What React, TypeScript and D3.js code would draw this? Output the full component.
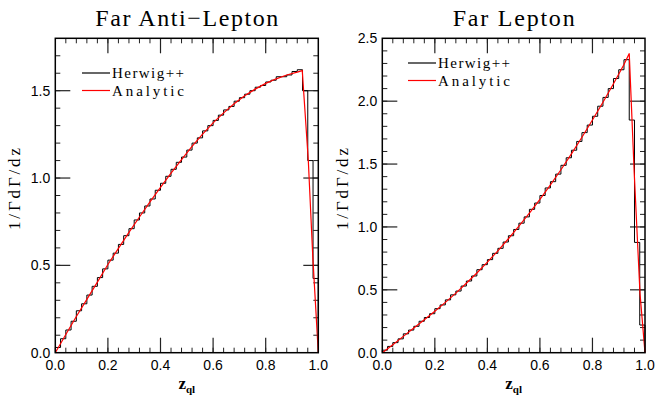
import React from 'react';
import * as d3 from 'd3';

// bin edges: 50 bins of width 0.02 on [0, 1]
const binEdges = d3.range(0, 51).map((i) => i / 50);

// Far Anti-Lepton
const antiHerwig = [0.03, 0.08, 0.13, 0.18, 0.24, 0.28, 0.33, 0.38, 0.43, 0.48,
  0.53, 0.57, 0.62, 0.67, 0.71, 0.76, 0.80, 0.84, 0.88, 0.93,
  0.97, 1.01, 1.05, 1.09, 1.12, 1.16, 1.20, 1.23, 1.27, 1.30,
  1.33, 1.36, 1.39, 1.41, 1.44, 1.46, 1.48, 1.50, 1.52, 1.53,
  1.55, 1.56, 1.58, 1.58, 1.59, 1.61, 1.62, 1.50, 1.10, 0.425];
const antiAnalyticZ = [0, 0.04, 0.08, 0.12, 0.16, 0.20, 0.24, 0.28, 0.32, 0.36, 0.40, 0.44, 0.48, 0.52,
  0.56, 0.60, 0.64, 0.68, 0.72, 0.76, 0.80, 0.84, 0.88, 0.92, 0.939, 0.962, 0.979, 1.0];
const antiAnalyticV = [0, 0.104, 0.207, 0.305, 0.404, 0.505, 0.597, 0.689, 0.777, 0.863, 0.947, 1.028, 1.106, 1.181,
  1.251, 1.316, 1.373, 1.425, 1.471, 1.509, 1.542, 1.568, 1.59, 1.606, 1.615, 1.10, 0.55, 0];

// Far Lepton
const leptonHerwig = [0.02, 0.05, 0.08, 0.11, 0.15, 0.18, 0.21, 0.25, 0.28, 0.31,
  0.35, 0.38, 0.42, 0.46, 0.49, 0.53, 0.57, 0.61, 0.66, 0.70,
  0.74, 0.79, 0.83, 0.88, 0.93, 0.98, 1.03, 1.08, 1.14, 1.19,
  1.25, 1.31, 1.36, 1.42, 1.49, 1.55, 1.61, 1.68, 1.75, 1.81,
  1.88, 1.96, 2.03, 2.10, 2.18, 2.25, 2.33, 1.85, 0.877, 0.22];
const leptonAnalyticZ = [0, 0.04, 0.08, 0.12, 0.16, 0.20, 0.24, 0.28, 0.32, 0.36, 0.40, 0.44, 0.48, 0.52,
  0.56, 0.60, 0.64, 0.68, 0.72, 0.76, 0.80, 0.84, 0.88, 0.92, 0.940, 0.959, 0.981, 1.0];
const leptonAnalyticV = [0, 0.064, 0.130, 0.196, 0.262, 0.33, 0.400, 0.474, 0.552, 0.634, 0.72, 0.810, 0.906, 1.006,
  1.110, 1.22, 1.335, 1.455, 1.581, 1.713, 1.85, 1.992, 2.139, 2.291, 2.38, 1.43, 0.47, 0];

const xTickLabels = ['0.0', '0.2', '0.4', '0.6', '0.8', '1.0'];
const antiYTickLabels = ['0.0', '0.5', '1.0', '1.5'];
const leptonYTickLabels = ['0.0', '0.5', '1.0', '1.5', '2.0', '2.5'];
const legendLabels = ['Herwig++', 'Analytic'];

const serif = '"Liberation Serif", "DejaVu Serif", serif';
const sans = '"Liberation Sans", Arial, sans-serif';

type PanelProps = {
  title: string;
  titleLen: number;
  left: number;
  right: number;
  yMax: number;
  yTicks: string[];
  herwig: number[];
  az: number[];
  av: number[];
  legendX: number;
  legendY: number;
  yLabelX: number;
};

const Panel = ({ title, titleLen, left, right, yMax, yTicks, herwig, az, av, legendX, legendY, yLabelX }: PanelProps) => {
  const top = 38.3;
  const bottom = 352.7;
  const x = d3.scaleLinear().domain([0, 1]).range([left, right]);
  const y = d3.scaleLinear().domain([0, yMax]).range([bottom, top]);

  // histogram as a stepped outline
  let hist = `M${x(0)},${y(0)}`;
  herwig.forEach((v, i) => {
    hist += `L${x(binEdges[i])},${y(v)}L${x(binEdges[i + 1])},${y(v)}`;
  });
  hist += `L${x(1)},${y(0)}`;

  const analytic = d3.line<number>()
    .x((_, i) => x(az[i]))
    .y((d) => y(d))(av);

  const xMinor = d3.range(1, 25).map((i) => i * 0.04);
  const xMajor = d3.range(1, 5).map((i) => i * 0.2);
  const yMinor = d3.range(1, Math.round(yMax * 10)).map((i) => i / 10);
  const yMajor = yTicks.map(Number).filter((v) => v > 0 && v < yMax);

  const tk = '#222';
  const cx = (left + right) / 2;

  return (
    <g>
      <text x={cx} y={26} textAnchor="middle" fontFamily={serif} fontSize={24}
        textLength={titleLen} lengthAdjust="spacing" fill="#000">{title}</text>

      {/* ticks, all four sides, pointing in */}
      {xMinor.map((t) => (
        <g key={'xm' + t}>
          <line x1={x(t)} x2={x(t)} y1={bottom} y2={bottom - 5} stroke={tk} strokeWidth={1} />
          <line x1={x(t)} x2={x(t)} y1={top} y2={top + 5} stroke={tk} strokeWidth={1} />
        </g>
      ))}
      {xMajor.map((t) => (
        <g key={'xM' + t}>
          <line x1={x(t)} x2={x(t)} y1={bottom} y2={bottom - 15} stroke={tk} strokeWidth={1.2} />
          <line x1={x(t)} x2={x(t)} y1={top} y2={top + 15} stroke={tk} strokeWidth={1.2} />
        </g>
      ))}
      {yMinor.map((t) => (
        <g key={'ym' + t}>
          <line x1={left} x2={left + 5} y1={y(t)} y2={y(t)} stroke={tk} strokeWidth={1} />
          <line x1={right} x2={right - 5} y1={y(t)} y2={y(t)} stroke={tk} strokeWidth={1} />
        </g>
      ))}
      {yMajor.map((t) => (
        <g key={'yM' + t}>
          <line x1={left} x2={left + 15} y1={y(t)} y2={y(t)} stroke={tk} strokeWidth={1.2} />
          <line x1={right} x2={right - 15} y1={y(t)} y2={y(t)} stroke={tk} strokeWidth={1.2} />
        </g>
      ))}

      {/* tick labels */}
      {xTickLabels.map((s) => (
        <text key={'xl' + s} x={x(Number(s))} y={370} textAnchor="middle"
          fontFamily={sans} fontSize={14} fill="#000">{s}</text>
      ))}
      {yTicks.map((s) => (
        <text key={'yl' + s} x={left - 5} y={y(Number(s)) + 5} textAnchor="end"
          fontFamily={sans} fontSize={14} fill="#000">{s}</text>
      ))}

      {/* axis titles */}
      <text transform={`translate(${yLabelX},${189}) rotate(-90)`} textAnchor="middle"
        fontFamily={serif} fontSize={17} textLength={82} lengthAdjust="spacing" fill="#000">1/ΓdΓ/dz</text>
      <text x={cx} y={389} textAnchor="middle" fontFamily={serif} fontWeight="bold" fontSize={17} fill="#000">
        z<tspan fontSize={11} dy={4}>ql</tspan>
      </text>

      {/* data */}
      <path d={hist} fill="none" stroke="#000" strokeWidth={1} />
      <path d={analytic ?? ''} fill="none" stroke="#ff0000" strokeWidth={1.2} />

      {/* legend */}
      {legendLabels.map((s, i) => (
        <g key={s}>
          <line x1={legendX} x2={legendX + 28} y1={legendY + i * 17.5} y2={legendY + i * 17.5}
            stroke={i === 0 ? '#000' : '#ff0000'} strokeWidth={1.2} />
          <text x={legendX + 30} y={legendY + i * 17.5 + 5} fontFamily={serif} fontSize={15}
            textLength={72} lengthAdjust="spacing" fill="#000">{s}</text>
        </g>
      ))}

      {/* frame */}
      <rect x={left} y={top} width={right - left} height={bottom - top} fill="none" stroke="#000" strokeWidth={1.5} />
    </g>
  );
};

export default function App() {
  return (
    <svg width={657} height={396} style={{ position: 'absolute', left: 0, top: 0, background: '#fff' }}>
      <rect width={657} height={396} fill="#fff" />
      <Panel title="Far Anti−Lepton" titleLen={183} left={55.3} right={318.3} yMax={1.8}
        yTicks={antiYTickLabels} herwig={antiHerwig} az={antiAnalyticZ} av={antiAnalyticV}
        legendX={82} legendY={73} yLabelX={20} />
      <Panel title="Far Lepton" titleLen={122} left={382.3} right={645} yMax={2.5}
        yTicks={leptonYTickLabels} herwig={leptonHerwig} az={leptonAnalyticZ} av={leptonAnalyticV}
        legendX={408} legendY={63} yLabelX={348} />
    </svg>
  );
}
